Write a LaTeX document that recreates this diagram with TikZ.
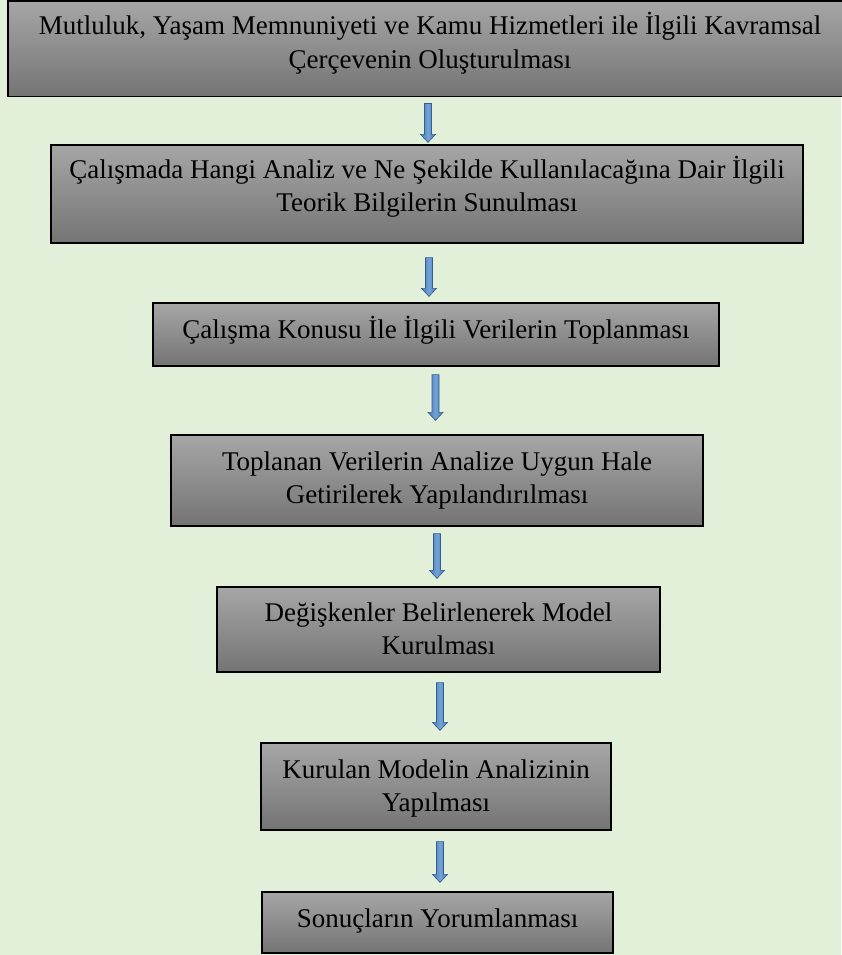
\documentclass[tikz,border=0pt]{standalone}
\usepackage{fontspec}
\setmainfont{Liberation Serif}
\usetikzlibrary{calc}
\definecolor{bgcol}{RGB}{226,239,217}
\definecolor{boxtop}{RGB}{166,166,166}
\definecolor{boxbot}{RGB}{116,116,116}
\definecolor{arrfill}{RGB}{70,122,184}
\definecolor{arrlight}{RGB}{115,162,214}
\definecolor{arrline}{RGB}{52,92,140}
\tikzset{
  stepbox/.style={draw=black, line width=1.2pt, top color=boxtop, bottom color=boxbot,
    align=center, inner sep=0pt, text height=51.5pt,
    font=\fontsize{27}{33.5}\selectfont},
  oneline/.style={text height=18pt},
  flowarrow/.style={draw=arrline, line width=0.6pt, left color=arrfill, right color=arrfill, middle color=arrlight},
}
\newcommand\flowarr[5]{%
  \path[flowarrow] let \p1=($(#1.south -| #3)+(0,#4)$), \p2=($(#2.north -| #3)+(0,-#5)$) in
    (\x1-3.5pt,\y1) -- (\x1+3.5pt,\y1) -- (\x1+3.5pt,\y2+8pt) -- (\x1+7.5pt,\y2+8pt)
    -- (\x1,\y2) -- (\x1-7.5pt,\y2+8pt) -- (\x1-3.5pt,\y2+8pt) -- cycle;}
\begin{document}
\begin{tikzpicture}[x=1pt,y=-1pt]
  \fill[bgcol] (0,0) rectangle (841,955);
  \useasboundingbox (0,0) rectangle (841,955);

  \node[stepbox, minimum width=844pt, minimum height=95.7pt, text depth=13pt] (b1) at (430,48.8)
    {Mutluluk, Yaşam Memnuniyeti ve Kamu Hizmetleri ile İlgili Kavramsal\\Çerçevenin Oluşturulması};
  \node[stepbox, minimum width=752pt, minimum height=98pt, text depth=16pt] (b2) at (427,194)
    {Çalışmada Hangi Analiz ve Ne Şekilde Kullanılacağına Dair İlgili\\Teorik Bilgilerin Sunulması};
  \node[stepbox, oneline, minimum width=566pt, minimum height=63pt, text depth=11pt] (b3) at (436,334.5)
    {Çalışma Konusu İle İlgili Verilerin Toplanması};
  \node[stepbox, minimum width=532pt, minimum height=91pt, text depth=5pt] (b4) at (437,480.5)
    {Toplanan Verilerin Analize Uygun Hale\\Getirilerek Yapılandırılması};
  \node[stepbox, minimum width=443pt, minimum height=85pt, text depth=1pt] (b5) at (438.5,629.5)
    {Değişkenler Belirlenerek Model\\Kurulması};
  \node[stepbox, minimum width=350pt, minimum height=87pt, text height=50.5pt, text depth=0pt] (b6) at (436,786.5)
    {Kurulan Modelin Analizinin\\Yapılması};
  \node[stepbox, oneline, minimum width=351pt, minimum height=61pt, text depth=9pt] (b7) at (437.5,922.5)
    {Sonuçların Yorumlanması};

  \coordinate (ax1) at (428,0);
  \coordinate (ax2) at (429,0);
  \coordinate (ax3) at (435.5,0);
  \coordinate (ax4) at (437,0);
  \coordinate (ax5) at (440,0);
  \coordinate (ax6) at (440,0);

  \flowarr{b1}{b2}{ax1}{6.3}{2}
  \flowarr{b2}{b3}{ax2}{14}{6}
  \flowarr{b3}{b4}{ax3}{8}{14}
  \flowarr{b4}{b5}{ax4}{7}{8}
  \flowarr{b5}{b6}{ax5}{10}{12}
  \flowarr{b6}{b7}{ax6}{11}{9}
\end{tikzpicture}
\end{document}
